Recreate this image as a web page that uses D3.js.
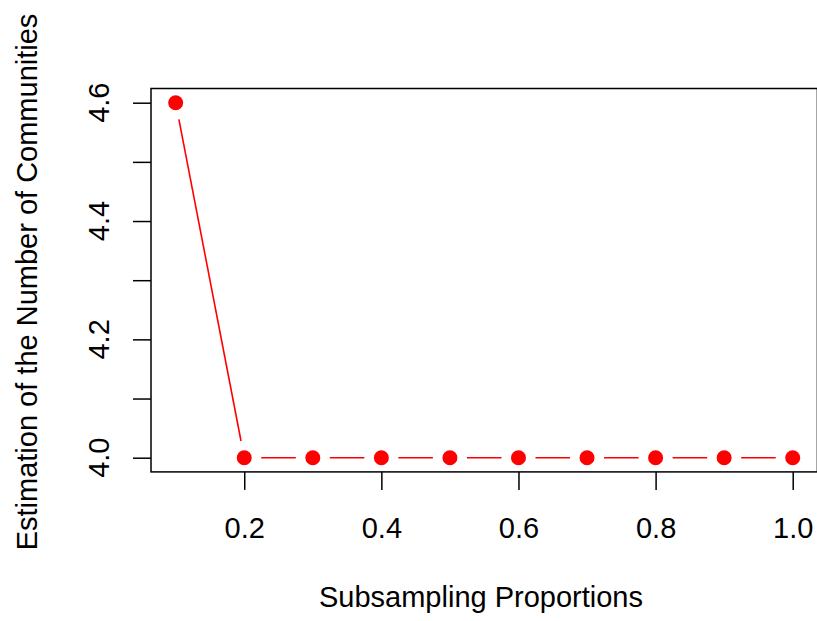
<!DOCTYPE html>
<html><head><meta charset="utf-8">
<script src="https://cdn.jsdelivr.net/npm/d3@7"></script>
<style>body{margin:0;background:#fff}svg{display:block}</style>
</head><body>
<script>
const proportions = [0.1,0.2,0.3,0.4,0.5,0.6,0.7,0.8,0.9,1.0];
const estimates = [4.6,4.0,4.0,4.0,4.0,4.0,4.0,4.0,4.0,4.0];
const xTicks = [0.2,0.4,0.6,0.8,1.0];
const yTicks = [4.0,4.1,4.2,4.3,4.4,4.5,4.6];
const yLabelTicks = [4.0,4.2,4.4,4.6];
const xTitle = "Subsampling Proportions";
const yTitle = "Estimation of the Number of Communities";

const W=817,H=621;
const L=151,R=817.4,T=88.5,B=471.9;
const FS=29;
const svg=d3.select("body").append("svg").attr("width",W).attr("height",H);
const font="'Liberation Sans', Arial, Helvetica, sans-serif";
const x=d3.scaleLinear().domain([0.064,1.036]).range([L,R]);
const y=d3.scaleLinear().domain([3.976,4.624]).range([B,T]);

// box
svg.append("rect").attr("x",L).attr("y",T).attr("width",R-L).attr("height",B-T)
  .attr("fill","none").attr("stroke","#000").attr("stroke-width",1.5);

// x axis
const xa=svg.append("g").attr("transform",`translate(0,${B})`)
  .call(d3.axisBottom(x).tickValues(xTicks).tickSize(18).tickPadding(0).tickFormat(d3.format(".1f")));
xa.select(".domain").remove();
xa.selectAll("line").attr("stroke-width",1.5);
xa.selectAll("text").attr("font-family",font).attr("font-size",FS).attr("fill","#000")
  .attr("y",528-B).attr("dy","0.35em");

// y axis
const ya=svg.append("g").attr("transform",`translate(${L},0)`)
  .call(d3.axisLeft(y).tickValues(yTicks).tickSize(18).tickFormat(""));
ya.select(".domain").remove();
ya.selectAll("line").attr("stroke-width",1.5);
svg.append("g").selectAll("text").data(yLabelTicks).join("text")
  .attr("transform",d=>`translate(99,${y(d)}) rotate(-90)`)
  .attr("text-anchor","middle").attr("dy","0.35em")
  .attr("font-family",font).attr("font-size",FS).text(d=>d.toFixed(1));

// titles
svg.append("text").attr("x",481).attr("y",597).attr("dy","0.35em").attr("text-anchor","middle")
  .attr("font-family",font).attr("font-size",FS).text(xTitle);
svg.append("text").attr("transform",`translate(27,282) rotate(-90)`).attr("dy","0.35em")
  .attr("text-anchor","middle").attr("font-family",font).attr("font-size",FS).text(yTitle);

// lines with gaps (type="b")
const gap=17;
const pts=proportions.map((p,i)=>[x(p),y(estimates[i])]);
const segs=[];
for(let i=0;i<pts.length-1;i++){
  const [x0,y0]=pts[i],[x1,y1]=pts[i+1];
  const dx=x1-x0,dy=y1-y0,len=Math.hypot(dx,dy);
  if(len>2*gap){const ux=dx/len,uy=dy/len;
    segs.push([x0+ux*gap,y0+uy*gap,x1-ux*gap,y1-uy*gap]);}
}
svg.append("g").selectAll("line").data(segs).join("line")
  .attr("x1",d=>d[0]).attr("y1",d=>d[1]).attr("x2",d=>d[2]).attr("y2",d=>d[3])
  .attr("stroke","#ff0000").attr("stroke-width",1.6);
svg.append("g").selectAll("circle").data(pts).join("circle")
  .attr("cx",d=>d[0]).attr("cy",d=>d[1]).attr("r",7.5).attr("fill","#ff0000");
</script>
</body></html>
